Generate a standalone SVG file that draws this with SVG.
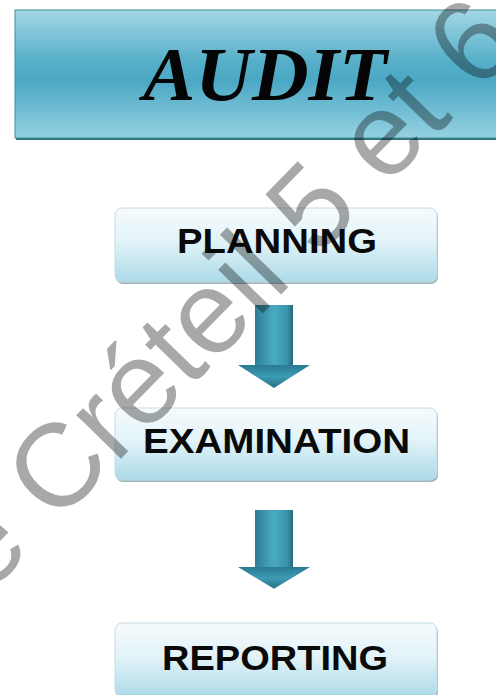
<svg xmlns="http://www.w3.org/2000/svg" width="496" height="695" viewBox="0 0 496 695">
  <defs>
    <linearGradient id="bannerFill" x1="0" y1="0" x2="0" y2="1">
      <stop offset="0" stop-color="#a3d7e5"/>
      <stop offset="0.4" stop-color="#56afc9"/>
      <stop offset="0.55" stop-color="#4ba8c4"/>
      <stop offset="1" stop-color="#95d1e1"/>
    </linearGradient>
    <linearGradient id="stepFill" x1="0" y1="0" x2="0" y2="1">
      <stop offset="0" stop-color="#f6fbfd"/>
      <stop offset="0.45" stop-color="#e2f3f8"/>
      <stop offset="1" stop-color="#acdae8"/>
    </linearGradient>
    <linearGradient id="shaftFill" x1="0" y1="0" x2="1" y2="0">
      <stop offset="0" stop-color="#2c7d92"/>
      <stop offset="0.5" stop-color="#4aaac3"/>
      <stop offset="0.85" stop-color="#3a93aa"/>
      <stop offset="1" stop-color="#25697a"/>
    </linearGradient>
    <linearGradient id="headFill" x1="0" y1="0" x2="0" y2="1">
      <stop offset="0" stop-color="#2a7a90"/>
      <stop offset="0.5" stop-color="#3d9bb4"/>
      <stop offset="1" stop-color="#2a7085"/>
    </linearGradient>
    <!-- block arrow pointing down, origin at shaft top centre -->
    <g id="downArrow">
      <rect x="-19" y="0" width="38" height="62" fill="url(#shaftFill)"/>
      <polygon points="-36,60 36,60 0,83" fill="url(#headFill)"/>
    </g>
  </defs>
  <style>
    .step-shadow { fill: #9fb5bc; }
    .step-box { fill: url(#stepFill); stroke: #c6dde4; stroke-width: 1; }
    .step-label { font-family: "Liberation Sans", Arial, sans-serif; font-weight: bold; font-size: 35px; fill: #0a0a0a; text-anchor: start; }
    .title { font-family: "Liberation Serif", "Times New Roman", serif; font-weight: bold; font-style: italic; font-size: 76px; fill: #050505; }
    .mark { font-family: "Liberation Sans", Arial, sans-serif; font-size: 118px; fill: #000; fill-opacity: 0.34; }
  </style>

  <rect width="496" height="695" fill="#ffffff"/>

  <!-- title banner -->
  <g id="title">
    <rect x="16" y="12" width="490" height="128" fill="#2f6e77"/>
    <rect x="15" y="10" width="490" height="128" fill="url(#bannerFill)" stroke="#3d8f9c" stroke-width="1"/>
    <text class="title" x="143" y="100" textLength="244" lengthAdjust="spacingAndGlyphs">AUDIT</text>
  </g>

  <!-- process steps -->
  <g id="planning">
    <rect class="step-shadow" x="116" y="210" width="322" height="74" rx="7"/>
    <rect class="step-box" x="115" y="208" width="322" height="74" rx="7"/>
    <text class="step-label" x="177" y="253" textLength="200" lengthAdjust="spacingAndGlyphs">PLANNING</text>
  </g>
  <g id="examination">
    <rect class="step-shadow" x="116" y="410" width="322" height="72" rx="7"/>
    <rect class="step-box" x="115" y="408" width="322" height="72" rx="7"/>
    <text class="step-label" x="143" y="453" textLength="267" lengthAdjust="spacingAndGlyphs">EXAMINATION</text>
  </g>
  <g id="reporting">
    <rect class="step-shadow" x="116" y="625" width="322" height="74" rx="7"/>
    <rect class="step-box" x="115" y="623" width="322" height="74" rx="7"/>
    <text class="step-label" x="162" y="670" textLength="226" lengthAdjust="spacingAndGlyphs">REPORTING</text>
  </g>

  <!-- connectors -->
  <g id="connectors">
    <use href="#downArrow" transform="translate(274,305)"/>
    <use href="#downArrow" transform="translate(274,510) scale(1,0.95)"/>
  </g>

  <!-- diagonal watermark -->
  <g id="watermark">
    <text class="mark" transform="translate(-13,596) rotate(-45.7)">e Créteil 5 et 6</text>
  </g>
</svg>
